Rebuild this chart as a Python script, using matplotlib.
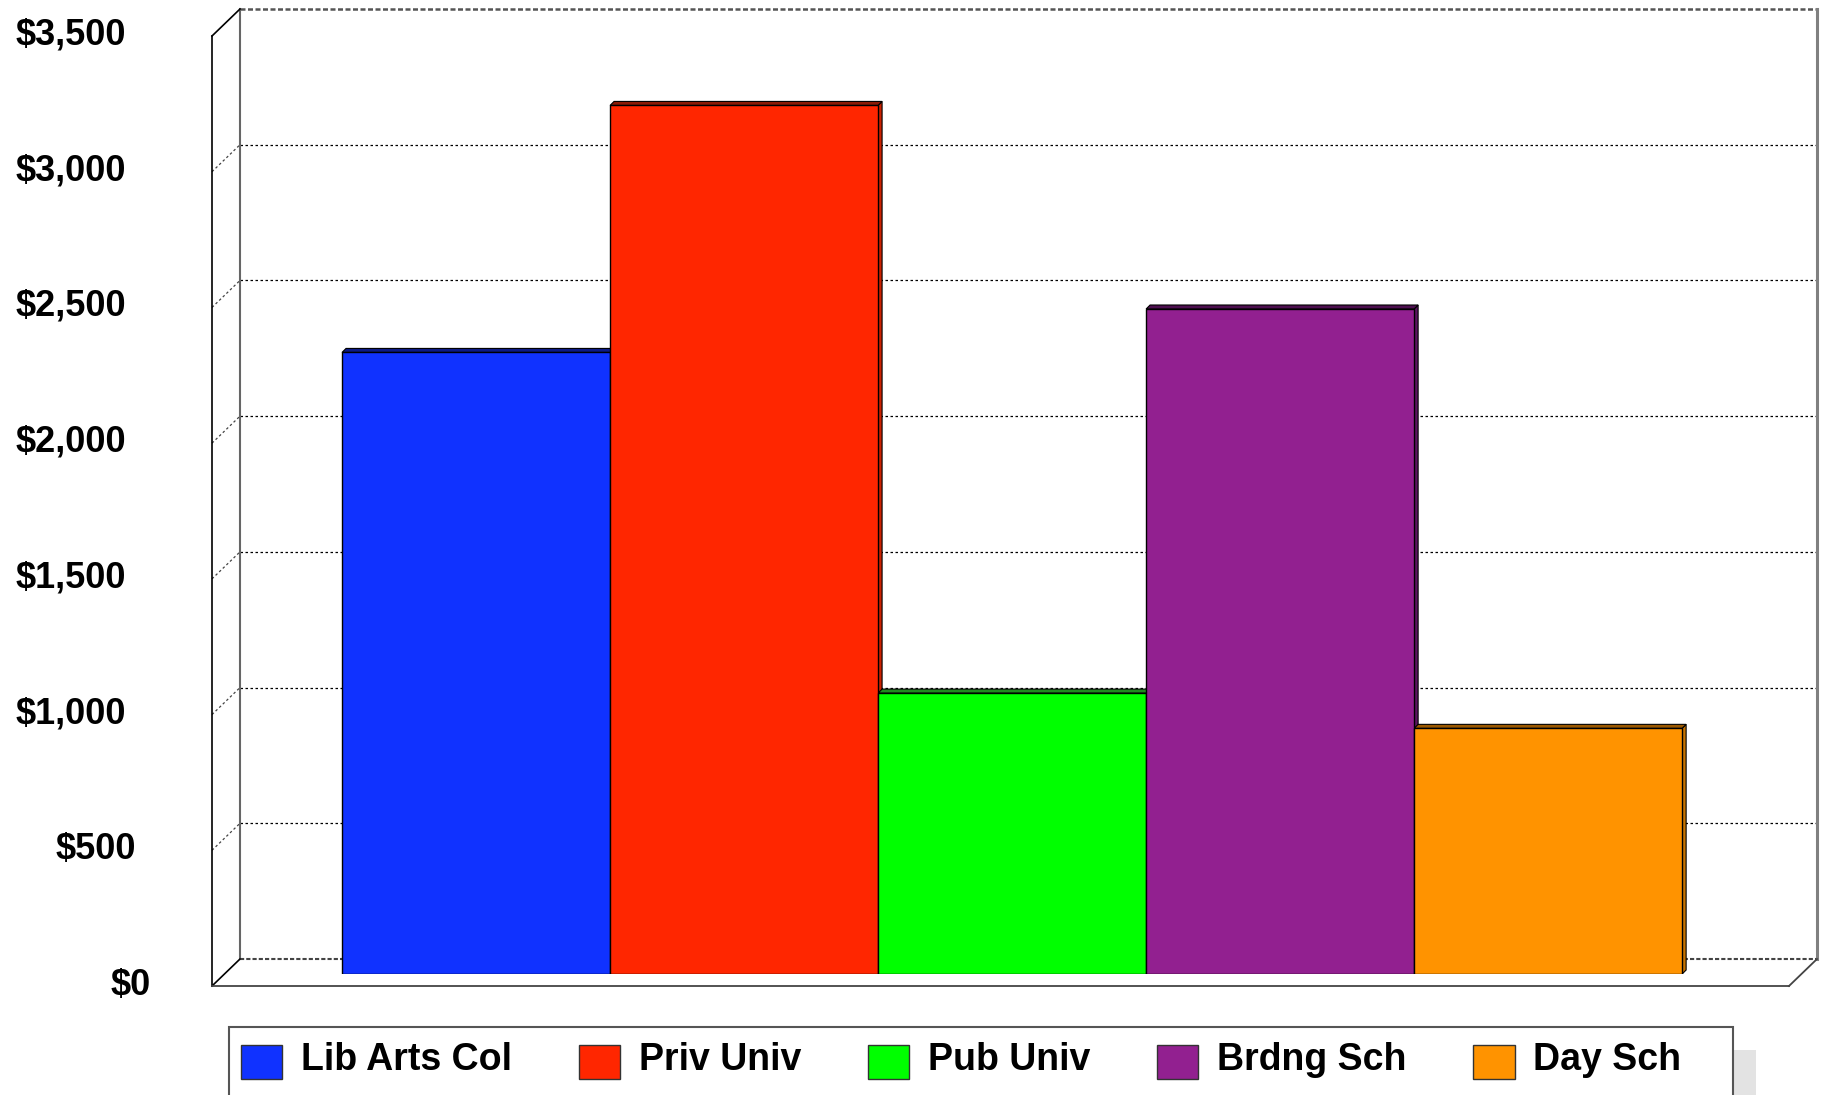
import matplotlib
matplotlib.use("Agg")
import matplotlib.pyplot as plt
from matplotlib.patches import Patch, Rectangle, Polygon
from matplotlib.transforms import ScaledTranslation
from matplotlib.legend_handler import HandlerPatch

plt.rcParams['text.parse_math'] = False
plt.rcParams['font.family'] = ['Liberation Sans', 'DejaVu Sans']

# data
categories = ['Lib Arts Col', 'Priv Univ', 'Pub Univ', 'Brdng Sch', 'Day Sch']
values = [2290, 3200, 1035, 2450, 905]
yticks = [0, 500, 1000, 1500, 2000, 2500, 3000, 3500]
ytick_labels = ['$0', '$500', '$1,000', '$1,500', '$2,000', '$2,500', '$3,000', '$3,500']

face_colors = ['#1032ff', '#ff2600', '#00ff00', '#922090', '#ff9300']
top_colors = ['#0c1a85', '#8c1a05', '#1f8a1f', '#4d1050', '#9a5800']
side_colors = ['#0a25c0', '#cc2200', '#00c000', '#5c1560', '#c87400']

W, H = 1826, 1095
fig = plt.figure(figsize=(W / 100, H / 100), dpi=100)
fig.patch.set_facecolor('white')

# axes = the plane the bars stand in
ax = fig.add_axes([226 / W, (H - 974) / H, 1577 / W, 950 / H])
ax.set_xlim(-0.933, 4.951)
ax.set_ylim(0, 3500)
ax.patch.set_visible(False)
for s in ax.spines.values():
    s.set_visible(False)
ax.set_xticks([])

# pixel -> data conversions for the 3d offsets
px_x = (4.951 + 0.933) / 1577
px_y = 3500 / 950
bdx, bdy = 14 * px_x, 15 * px_y     # back wall
fdx, fdy = -14 * px_x, -12 * px_y   # front edge
ddx, ddy = 4 * px_x, 4 * px_y       # bar depth

xl, xr = ax.get_xlim()
top = yticks[-1]
kw = dict(clip_on=False, zorder=1)

# back wall grid
for v in yticks[1:-1]:
    ax.plot([xl + bdx, xr + bdx], [v + bdy, v + bdy], color='black', lw=0.9, ls=(0, (2, 2)), **kw)
    ax.plot([xl + fdx, xl + bdx], [v + fdy, v + bdy], color='#444444', lw=0.9, ls=(0, (2, 2)), **kw)
ax.plot([xl + bdx, xr + bdx], [top + bdy, top + bdy], color='#555555', lw=1.8, ls=(0, (2, 1)), **kw)
ax.plot([xl + bdx, xr + bdx], [bdy, bdy], color='#444444', lw=1.5, ls=(0, (2, 1)), **kw)
ax.plot([xr + bdx, xr + bdx], [bdy, top + bdy], color='#808080', lw=2.2, **kw)
ax.plot([xl + bdx, xl + bdx], [bdy, top + bdy], color='#666666', lw=1.5, **kw)

# left wall and floor edges
ax.plot([xl + fdx, xl + fdx], [fdy, top + fdy], color='black', lw=1.2, **kw)
ax.plot([xl + fdx, xl + bdx], [top + fdy, top + bdy], color='black', lw=1.2, **kw)
ax.plot([xl + fdx, xl + bdx], [fdy, bdy], color='black', lw=1.2, **kw)
ax.plot([xl + fdx, xr + fdx], [fdy, fdy], color='#444444', lw=1.3, **kw)
ax.plot([xr + fdx, xr + bdx], [fdy, bdy], color='#444444', lw=1.3, **kw)

# bars with a thin top and side
x = list(range(len(values)))
for i, v in enumerate(values):
    l, r = i - 0.5, i + 0.5
    ax.add_patch(Polygon([(r, 0), (r + ddx, ddy), (r + ddx, v + ddy), (r, v)],
                         facecolor=side_colors[i], edgecolor='black', lw=0.8, zorder=2.9))
    ax.add_patch(Polygon([(l, v), (l + ddx, v + ddy), (r + ddx, v + ddy), (r, v)],
                         facecolor=top_colors[i], edgecolor='black', lw=0.8, zorder=2.9))
ax.bar(x, values, width=1.0, color=face_colors, edgecolor='black', linewidth=1.0, zorder=3)

ax.set_yticks(yticks)
ax.set_yticklabels(ytick_labels, fontsize=26, fontweight='bold')
ax.tick_params(axis='y', length=0, pad=72)
# the original labels sit a bit low, and the two short ones drift right
x_shift = [25, 10, 0, 0, 0, 0, 0, 0]
for lab, sx in zip(ax.get_yticklabels(), x_shift):
    lab.set_transform(lab.get_transform() + ScaledTranslation(sx / 100, -7 / 100, fig.dpi_scale_trans))

# legend box with shadow
fig.add_artist(Rectangle((252 / W, -0.05), 1504 / W, (H - 1050) / H + 0.05,
                         transform=fig.transFigure, facecolor='#e3e3e3', edgecolor='none', zorder=0))
fig.add_artist(Rectangle((229 / W, -0.05), 1504 / W, (H - 1027) / H + 0.05,
                         transform=fig.transFigure, facecolor='white', edgecolor='#555555', lw=1.5, zorder=0.5))


def low_swatch(legend, orig_handle, xdescent, ydescent, width, height, fontsize):
    # swatches sit a little lower than the text in the original
    return Rectangle((-xdescent, -ydescent - 3.6), width, height)


handles = [Patch(facecolor=c, edgecolor='#333333', lw=1) for c in face_colors]
fig.legend(handles, categories, loc='upper left', bbox_to_anchor=(241 / W, 1 - 1040 / H),
           ncol=5, frameon=False, prop={'family': 'Liberation Sans', 'weight': 'bold', 'size': 27},
           handlelength=1.1, handleheight=1.0, handletextpad=0.5, columnspacing=1.78,
           borderpad=0, borderaxespad=0,
           handler_map={Patch: HandlerPatch(patch_func=low_swatch)})

fig.savefig('out.png', dpi=100)
